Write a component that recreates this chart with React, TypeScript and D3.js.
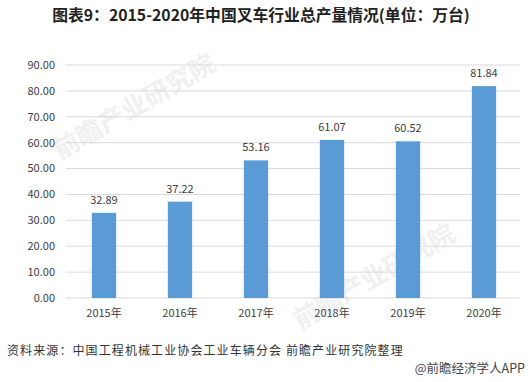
import React from "react";
import * as d3 from "d3";

const categories = ["2015年", "2016年", "2017年", "2018年", "2019年", "2020年"];
const values = [32.89, 37.22, 53.16, 61.07, 60.52, 81.84];
const yTicks = [0, 10, 20, 30, 40, 50, 60, 70, 80, 90];
const title = "图表9：2015-2020年中国叉车行业总产量情况(单位：万台)";
const source = "资料来源：中国工程机械工业协会工业车辆分会 前瞻产业研究院整理";
const credit = "@前瞻经济学人APP";

const W = 528;
const H = 382;
const font = "'Noto Sans CJK SC', 'Noto Sans', sans-serif";

export default function App() {
  const x = d3.scaleBand<string>().domain(categories).range([66, 522]).paddingInner(0.68).paddingOuter(0.34);
  const y = d3.scaleLinear().domain([0, 90]).range([298, 65]);

  return (
    <svg width={W} height={H} style={{ position: "absolute", left: 0, top: 0, background: "#fff" }} fontFamily={font}>
      <rect x={0} y={0} width={W} height={H} fill="#fff" />
      <text x={261} y={21} textAnchor="middle" fontSize={15.8} fontWeight="bold" fill="#222">{title}</text>
      {/* faint watermarks */}
      <g fill="#f0f0f0" fontSize={26} fontWeight="bold">
        <text transform="translate(60,160) rotate(-30)">前瞻产业研究院</text>
        <text transform="translate(300,330) rotate(-30)">前瞻产业研究院</text>
      </g>
      {yTicks.map((t) => (
        <g key={t}>
          <line x1={66} x2={520} y1={y(t)} y2={y(t)} stroke="#d9d9d9" strokeWidth={1} />
          <text x={55} y={y(t)} dy="0.35em" textAnchor="end" fontSize={11} fill="#404040">{t.toFixed(2)}</text>
        </g>
      ))}
      {categories.map((c, i) => (
        <g key={c}>
          <rect x={x(c)} y={y(values[i])} width={x.bandwidth()} height={y(0) - y(values[i])} fill="#5b9bd5" />
          <text x={(x(c) as number) + x.bandwidth() / 2} y={y(values[i]) - 9} textAnchor="middle" fontSize={11} fill="#404040">{values[i].toFixed(2)}</text>
          <text x={(x(c) as number) + x.bandwidth() / 2} y={313} dy="0.35em" textAnchor="middle" fontSize={11} fill="#404040">{c}</text>
        </g>
      ))}
      <text x={7} y={351} dy="0.35em" fontSize={12} letterSpacing={1.1} fill="#333">{source}</text>
      <text x={525} y={369} dy="0.35em" textAnchor="end" fontSize={12.5} fill="#444">{credit}</text>
    </svg>
  );
}
